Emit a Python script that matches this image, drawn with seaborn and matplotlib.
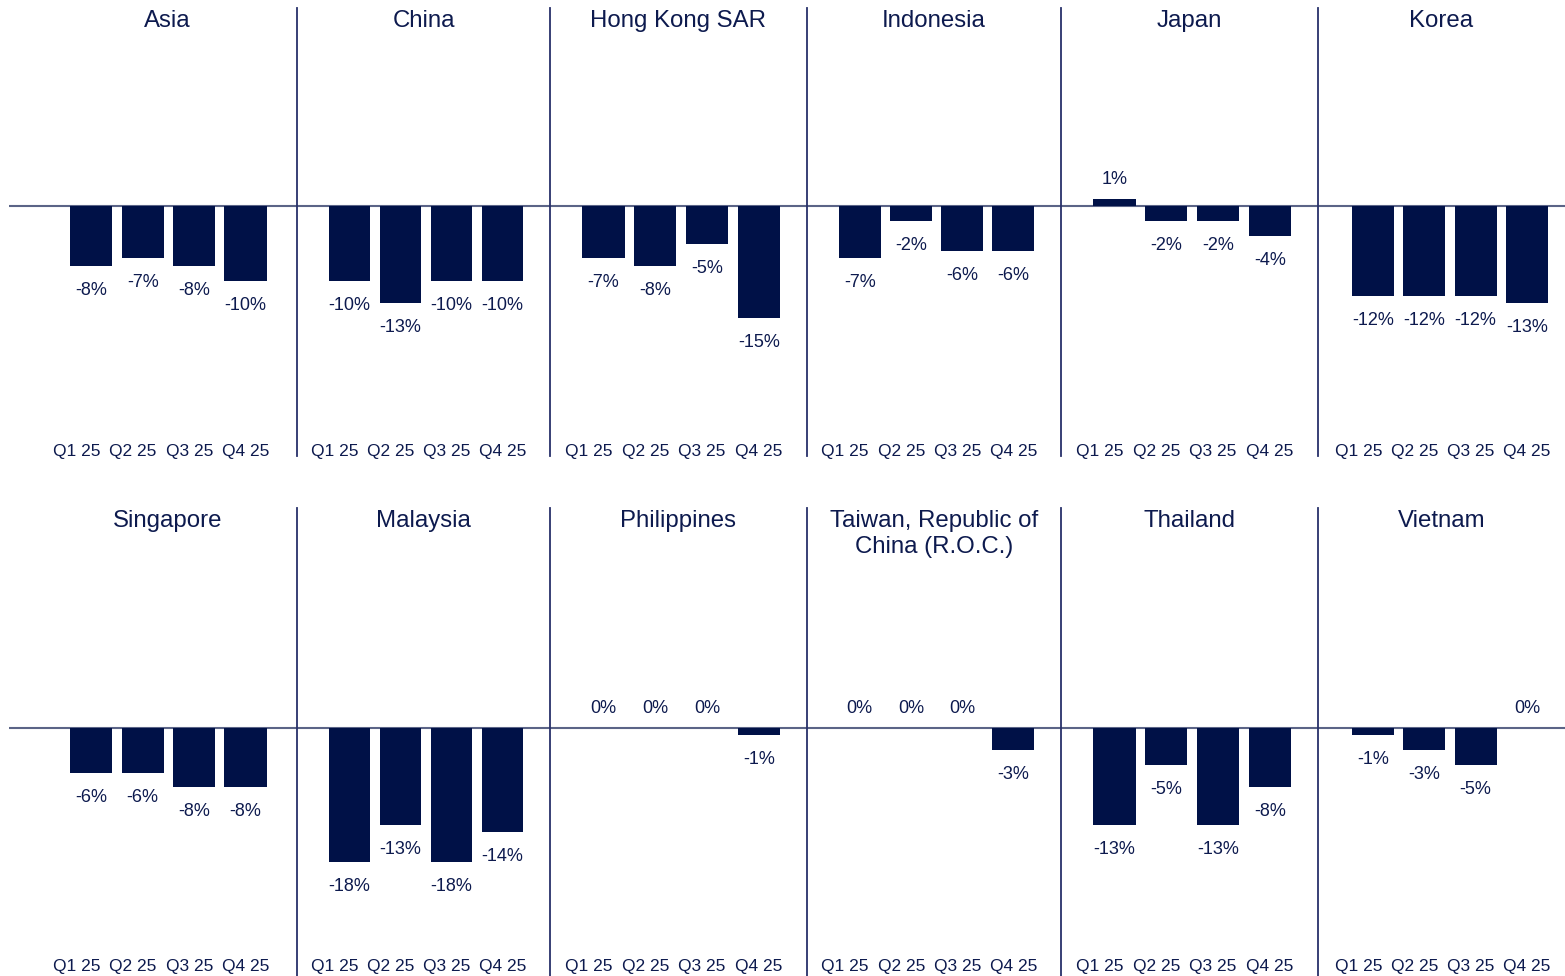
import matplotlib
matplotlib.use("Agg")
import matplotlib.pyplot as plt
import seaborn as sns
import pandas as pd

# ---- data -------------------------------------------------------------
quarters = ["Q1 25", "Q2 25", "Q3 25", "Q4 25"]

regions_top = ["Asia", "China", "Hong Kong SAR", "Indonesia", "Japan", "Korea"]
regions_bottom = ["Singapore", "Malaysia", "Philippines",
                  "Taiwan, Republic of\nChina (R.O.C.)", "Thailand", "Vietnam"]

asia = [-8, -7, -8, -10]
china = [-10, -13, -10, -10]
hong_kong = [-7, -8, -5, -15]
indonesia = [-7, -2, -6, -6]
japan = [1, -2, -2, -4]
korea = [-12, -12, -12, -13]
singapore = [-6, -6, -8, -8]
malaysia = [-18, -13, -18, -14]
philippines = [0, 0, 0, -1]
taiwan = [0, 0, 0, -3]
thailand = [-13, -5, -13, -8]
vietnam = [-1, -3, -5, 0]

values_top = [asia, china, hong_kong, indonesia, japan, korea]
values_bottom = [singapore, malaysia, philippines, taiwan, thailand, vietnam]

# ---- style ------------------------------------------------------------
sns.set_style("white")
plt.rcParams["font.family"] = ["Liberation Sans", "DejaVu Sans"]

BAR = "#001147"
TEXT = "#0d1a4e"
SEP = "#27306a"
ZERO = "#5b6487"

W, H = 1565, 976
fig = plt.figure(figsize=(W / 100, H / 100), dpi=100)

# panel edges (px) and x-limits per column
edges = [9, 297, 550, 807, 1061, 1318, 1565]
xlims = [(-1.6, 4.0), (-1.03, 3.93), (-1.03, 3.93), (-1.03, 3.93),
         (-1.03, 3.93), (-1.07, 3.74)]
# quarter labels sit a little wider apart than the bars, anchored on Q4
tick_pos = [3 - (3 - i) * 1.095 for i in range(len(quarters))]

rows = [
    (regions_top, values_top, 8, 456, (-33.5, 26.6), -8.7),
    (regions_bottom, values_bottom, 508, 976, (-33.3, 29.5), -12.6),
]

for names, values, top_px, bot_px, ylim, tick_pad in rows:
    for col, (name, vals) in enumerate(zip(names, values)):
        x0, x1 = edges[col], edges[col + 1]
        ax = fig.add_axes([x0 / W, (H - bot_px) / H, (x1 - x0) / W, (bot_px - top_px) / H])
        df = pd.DataFrame({"quarter": quarters, "value": vals})
        sns.barplot(data=df, x="quarter", y="value", ax=ax, color=BAR,
                    saturation=1, width=0.82, linewidth=0)
        ax.set_xlim(*xlims[col])
        ax.set_ylim(*ylim)
        ax.axhline(0, color=ZERO, lw=1.5, zorder=0.5)

        for i, v in enumerate(vals):
            if v < 0:
                ax.annotate(f"{v:.0f}%", xy=(i, v), xytext=(0, -11.5),
                            textcoords="offset points", ha="center", va="top",
                            fontsize=13, color=TEXT)
            else:
                ax.annotate(f"{v:.0f}%", xy=(i, v), xytext=(0, 8),
                            textcoords="offset points", ha="center", va="bottom",
                            fontsize=13, color=TEXT)

        # title centred over the panel (Asia's panel is padded on the left)
        left = -1.03 if col == 0 else xlims[col][0]
        title_x = (left + xlims[col][1]) / 2
        ax.annotate(name, xy=(title_x, 1), xycoords=("data", "axes fraction"),
                    xytext=(0, -1.5), textcoords="offset points",
                    ha="center", va="top", fontsize=17.3, color=TEXT,
                    linespacing=1.25)

        ax.set_xlabel("")
        ax.set_ylabel("")
        ax.set_yticks([])
        ax.set_xticks(tick_pos)
        ax.set_xticklabels(quarters)
        ax.tick_params(axis="x", length=0, pad=tick_pad, labelsize=12.5, labelcolor=TEXT)
        for lbl in ax.get_xticklabels():
            lbl.set_verticalalignment("top")
        for side in ["top", "right", "bottom"]:
            ax.spines[side].set_visible(False)
        if col == 0:
            ax.spines["left"].set_visible(False)
        else:
            ax.spines["left"].set_color(SEP)
            ax.spines["left"].set_linewidth(1.3)
        ax.patch.set_alpha(0)

fig.savefig("out.png", dpi=100)
